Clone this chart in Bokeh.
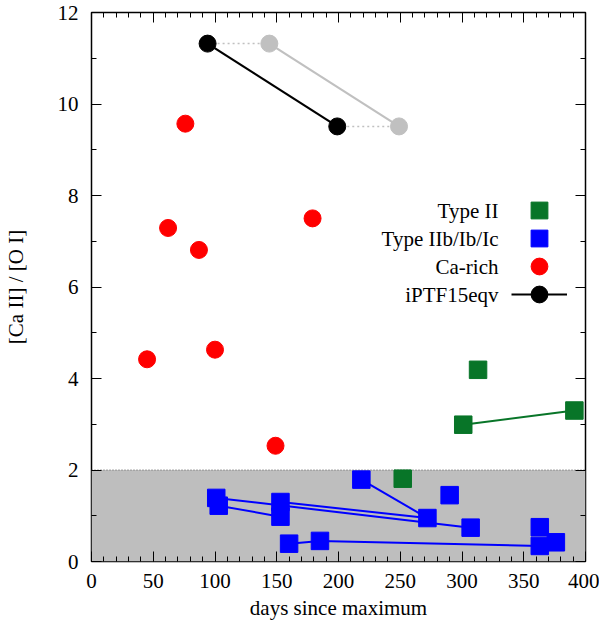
from bokeh.plotting import figure
from bokeh.models import (Range1d, LinearAxis, SingleIntervalTicker, BoxAnnotation,
                          Span, Label, Legend, LegendItem, CustomJSTickFormatter)
from bokeh.embed import file_html
from bokeh.resources import INLINE

# ---------------- data ----------------
ca_rich_days = [45, 62, 76, 87, 100, 149, 179]
ca_rich_ratio = [4.42, 7.29, 9.57, 6.81, 4.63, 2.53, 7.50]

type2_days = [252, 301, 313, 391]
type2_ratio = [1.81, 2.99, 4.19, 3.30]
type2_track_days = [301, 391]
type2_track_ratio = [2.99, 3.30]

stripped_days = [218.5, 290, 101, 103, 153, 153, 272, 307, 363, 160, 185, 363, 376]
stripped_ratio = [1.79, 1.45, 1.39, 1.22, 1.30, 0.98, 0.95, 0.74, 0.75, 0.39, 0.45, 0.34, 0.42]
stripped_tracks_days = [[218.5, 272], [101, 307], [103, 153], [153, 272], [160, 185, 363]]
stripped_tracks_ratio = [[1.79, 0.95], [1.39, 0.74], [1.22, 0.98], [1.30, 0.95], [0.39, 0.45, 0.34]]

iptf_days = [94, 199]
iptf_ratio = [11.32, 9.51]
iptf_shifted_days = [144, 249]

threshold = 2.0

legend_names = ["Type II", "Type IIb/Ib/Ic", "Ca-rich", "iPTF15eqv"]

# ---------------- style ----------------
FONT = "Liberation Serif"
FS = "21px"
GREEN = "#087528"
BLUE = "#0000ff"
RED = "#ff0000"
GREY = "#c0c0c0"

p = figure(width=599, height=626, x_range=Range1d(0, 400), y_range=Range1d(0, 12),
           output_backend="svg", toolbar_location=None,
           min_border_left=83, min_border_right=14, min_border_top=12, min_border_bottom=65)
p.xgrid.visible = False
p.ygrid.visible = False
p.outline_line_color = "black"
p.outline_line_width = 1.5
p.outline_line_alpha = 1.0
p.background_fill_color = "white"
p.border_fill_color = "white"

def style_axis(ax, ticker, show_labels):
    ax.ticker = ticker
    ax.axis_line_color = None
    ax.major_tick_in = 10
    ax.major_tick_out = 0
    ax.minor_tick_in = 5
    ax.minor_tick_out = 0
    ax.major_tick_line_color = "black"
    ax.minor_tick_line_color = "black"
    ax.major_tick_line_width = 1
    ax.minor_tick_line_width = 1
    if show_labels:
        ax.major_label_text_font = FONT
        ax.major_label_text_font_size = FS
        ax.major_label_text_color = "black"
    else:
        ax.formatter = CustomJSTickFormatter(code="return ''")
        ax.major_label_text_font_size = "0px"
        ax.major_label_standoff = 0

style_axis(p.xaxis[0], SingleIntervalTicker(interval=50, num_minor_ticks=5), True)
style_axis(p.yaxis[0], SingleIntervalTicker(interval=2, num_minor_ticks=2), True)
p.xaxis[0].major_label_standoff = 12
p.xaxis[0].axis_label = "days since maximum"
p.xaxis[0].axis_label_standoff = 5
p.yaxis[0].major_label_standoff = 13
p.yaxis[0].axis_label = "[Ca II] / [O I]"
p.yaxis[0].axis_label_standoff = 27
for ax in (p.xaxis[0], p.yaxis[0]):
    ax.axis_label_text_font = FONT
    ax.axis_label_text_font_size = FS
    ax.axis_label_text_font_style = "normal"
    ax.axis_label_text_color = "black"

top_ax = LinearAxis()
style_axis(top_ax, SingleIntervalTicker(interval=50, num_minor_ticks=5), False)
p.add_layout(top_ax, "above")
right_ax = LinearAxis()
style_axis(right_ax, SingleIntervalTicker(interval=2, num_minor_ticks=2), False)
p.add_layout(right_ax, "right")

# grey region below the threshold
p.add_layout(BoxAnnotation(bottom=0, top=threshold, fill_color="#bebebe", fill_alpha=1.0,
                           line_color=None, level="underlay"))
p.add_layout(Span(location=threshold, dimension="width", line_color="#5a5a5a",
                  line_dash="1 2", line_width=1.2, level="underlay"))

# iPTF15eqv shifted (grey) and connectors
for d0, d1, r in zip(iptf_days, iptf_shifted_days, iptf_ratio):
    p.line([d0, d1], [r, r], line_color=GREY, line_width=1.5, line_dash="2 3")
p.line(iptf_shifted_days, iptf_ratio, line_color=GREY, line_width=2.2)
p.scatter(iptf_shifted_days, iptf_ratio, marker="circle", size=17, color=GREY)

# Type IIb/Ib/Ic
p.multi_line(stripped_tracks_days, stripped_tracks_ratio, line_color=BLUE, line_width=2)
r_strip = p.scatter(stripped_days, stripped_ratio, marker="square", size=17.5, color=BLUE)

# Type II
p.line(type2_track_days, type2_track_ratio, line_color=GREEN, line_width=2)
r_t2 = p.scatter(type2_days, type2_ratio, marker="square", size=17.5, color=GREEN)

# Ca-rich
r_ca = p.scatter(ca_rich_days, ca_rich_ratio, marker="circle", size=17, color=RED)

# iPTF15eqv
r_il = p.line(iptf_days, iptf_ratio, line_color="black", line_width=2.2)
r_ic = p.scatter(iptf_days, iptf_ratio, marker="circle", size=17, color="black")

# legend: symbols on the right, text right-aligned to their left (one row each)
row_h = 28
leg_top = 351  # frame-relative y of first row centre
glyph_h = 42
for i, (name, rends) in enumerate(zip(legend_names, [[r_t2], [r_strip], [r_ca], [r_il, r_ic]])):
    yc = leg_top - i * row_h
    lg = Legend(items=[LegendItem(label=" ", renderers=rends)],
                location=(420, yc - glyph_h // 2), glyph_width=56, glyph_height=glyph_h,
                padding=0, margin=0, label_standoff=0, label_width=0, label_height=0,
                label_text_font_size="1px", border_line_color=None,
                background_fill_alpha=0)
    p.add_layout(lg, "center")
    p.add_layout(Label(x=407, y=yc, x_units="screen", y_units="screen",
                       text=name, text_align="right", text_baseline="middle",
                       text_font=FONT, text_font_size=FS, text_color="black"))

open("out.html", "w").write(file_html(p, INLINE))
